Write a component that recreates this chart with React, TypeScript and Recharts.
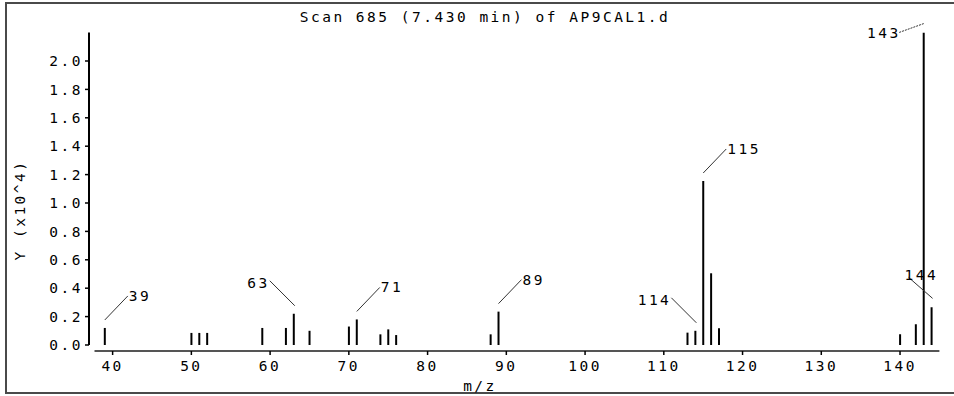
import { ComposedChart, Bar, XAxis, YAxis, ReferenceLine, LabelList } from "recharts";

const FONT = "'DejaVu Sans Mono', monospace";

// m/z of each peak and its abundance (x10^4)
const mzValues = [39, 50, 51, 52, 59, 62, 63, 65, 70, 71, 74, 75, 76, 88, 89, 113, 114, 115, 116, 117, 140, 142, 143, 144];
const abundance = [0.12, 0.085, 0.085, 0.085, 0.12, 0.12, 0.22, 0.1, 0.13, 0.18, 0.075, 0.11, 0.07, 0.075, 0.235, 0.087, 0.1, 1.155, 0.505, 0.118, 0.075, 0.146, 2.2, 0.265];
const xTicks = [40, 50, 60, 70, 80, 90, 100, 110, 120, 130, 140];
const yTicks = [0, 0.2, 0.4, 0.6, 0.8, 1.0, 1.2, 1.4, 1.6, 1.8, 2.0];
const labeledPeaks = [39, 63, 71, 89, 114, 115, 143, 144];

const title = "Scan 685 (7.430 min) of AP9CAL1.d";
const xLabel = "m/z";
const yLabel = "Y (x10^4)";

const data = mzValues.map((mz, i) => ({ mz, y: abundance[i] }));

// which way the leader line of each label runs
const labelSide: Record<number, string> = {
  39: "right", 63: "left", 71: "right", 89: "right",
  114: "left", 115: "right", 143: "flat", 144: "over",
};

const Y_MIN = -0.0423;

const txt = { fill: "#000", fontSize: 14.5, fontFamily: FONT, letterSpacing: 2.5 };

function PeakLabel(props: any) {
  const { x, y, width, value } = props;
  if (!labeledPeaks.includes(value)) return null;
  const cx = x + width / 2;
  const top = y;
  const side = labelSide[value];
  const ln = { stroke: "#333", strokeWidth: 1 };
  if (side === "right") {
    return (
      <g>
        <line x1={cx} y1={top - 8} x2={cx + 23} y2={top - 32} {...ln} />
        <text x={cx + 24} y={top - 32} dominantBaseline="central" {...txt}>{value}</text>
      </g>
    );
  }
  if (side === "left") {
    return (
      <g>
        <line x1={cx + 1} y1={top - 8} x2={cx - 24} y2={top - 33} {...ln} />
        <text x={cx - 24} y={top - 31} textAnchor="end" dominantBaseline="central" {...txt}>{value}</text>
      </g>
    );
  }
  if (side === "flat") {
    return (
      <g>
        <line x1={cx} y1={top - 9} x2={cx - 25} y2={top} {...ln} strokeDasharray="2 1" />
        <text x={cx - 23} y={top} textAnchor="end" dominantBaseline="central" {...txt}>{value}</text>
      </g>
    );
  }
  return (
    <g>
      <line x1={cx + 1} y1={top - 9} x2={cx - 23} y2={top - 30} {...ln} />
      <text x={cx - 27} y={top - 32} dominantBaseline="central" {...txt}>{value}</text>
    </g>
  );
}

export default function App() {
  return (
    <div style={{ position: "absolute", left: 0, top: 0, width: 954, height: 396, background: "#fff", overflow: "hidden" }}>
      <ComposedChart width={954} height={396} data={data} margin={{ top: 32.6, right: 14.6, bottom: 0, left: 0 }}>
        <XAxis
          dataKey="mz"
          type="number"
          domain={[37, 145]}
          allowDataOverflow
          ticks={xTicks}
          height={45}
          axisLine={false}
          tickSize={4}
          tickMargin={6}
          tickLine={{ stroke: "#000", strokeWidth: 1.5 }}
          tick={txt}
        />
        <YAxis
          type="number"
          domain={[Y_MIN, 2.2]}
          allowDataOverflow
          ticks={yTicks}
          width={89}
          axisLine={false}
          tickSize={4}
          tickMargin={2}
          tickLine={{ stroke: "#000", strokeWidth: 1.5 }}
          tick={txt}
          tickFormatter={(v: number) => v.toFixed(1)}
        />
        <ReferenceLine segment={[{ x: 37, y: 0 }, { x: 37, y: 2.2 }]} stroke="#000" strokeWidth={2} ifOverflow="visible" />
        <ReferenceLine segment={[{ x: 37.7, y: Y_MIN }, { x: 145, y: Y_MIN }]} stroke="#555" strokeWidth={2} ifOverflow="visible" />
        <Bar dataKey="y" fill="#000" barSize={2} isAnimationActive={false}>
          <LabelList dataKey="mz" content={PeakLabel} />
        </Bar>
      </ComposedChart>
      <svg width={954} height={396} style={{ position: "absolute", left: 0, top: 0, pointerEvents: "none" }}>
        <rect x={6} y={3} width={980} height={390} fill="none" stroke="#4a4a4a" strokeWidth={2} />
        <text x={485} y={22} textAnchor="middle" {...txt}>{title}</text>
        <text x={480} y={391} textAnchor="middle" {...txt}>{xLabel}</text>
        <text x={25} y={210} textAnchor="middle" transform="rotate(-90 25 210)" {...txt}>{yLabel}</text>
      </svg>
    </div>
  );
}
